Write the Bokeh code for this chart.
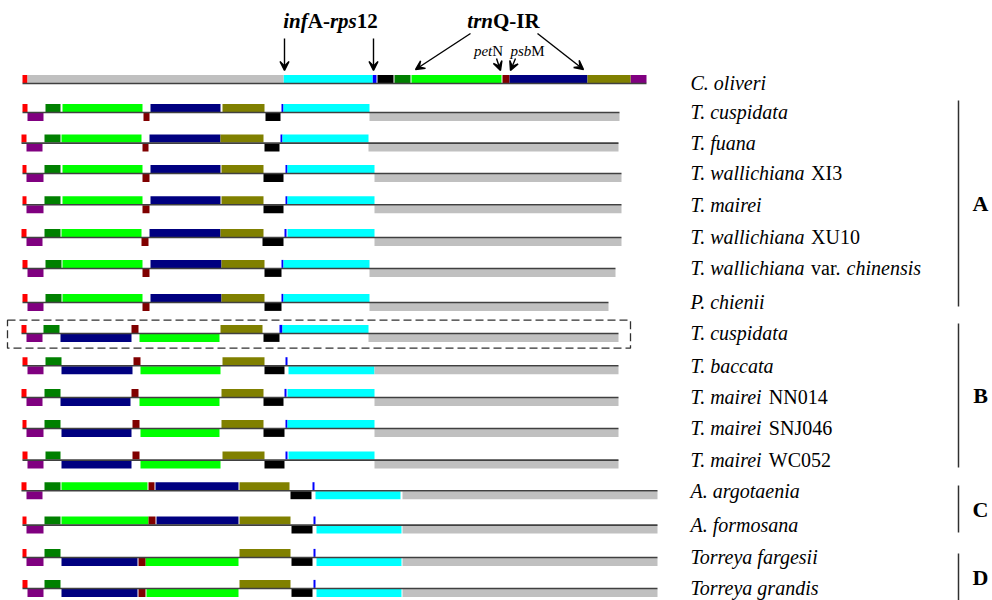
from bokeh.plotting import figure
from bokeh.models import Range1d, Arrow, VeeHead
from bokeh.core.properties import value
from bokeh.embed import file_html
from bokeh.resources import INLINE

# ---------------- data ----------------
SEGMENTS = ["red", "purple", "dkgreen", "green", "darkred", "navy", "olive", "black", "blue", "cyan", "gray"]
SEG_COLORS = ["#ff0000", "#800080", "#008000", "#00ff00", "#800000", "#000080",
              "#808000", "#000000", "#0000ff", "#00ffff", "#c0c0c0"]

species = ["C. oliveri", "T. cuspidata", "T. fuana", "T. wallichiana XI3", "T. mairei",
           "T. wallichiana XU10", "T. wallichiana var. chinensis", "P. chienii",
           "T. cuspidata", "T. baccata", "T. mairei NN014", "T. mairei SNJ046", "T. mairei WC052",
           "A. argotaenia", "A. formosana", "Torreya fargesii", "Torreya grandis"]
row_y = [82.7, 111.7, 142.3, 172.7, 204.0, 236.7, 267.7, 301.7, 332.7,
         365.0, 396.7, 427.7, 459.3, 490.0, 524.3, 556.7, 587.7]

# (start, end, strand) for each segment in SEGMENTS order ; strand +1 = above line, -1 = below
c_oliveri   = [(22,27,1),(630,646,1),(394,410,1),(411,501,1),(502,509,1),(509,587,1),(587,630,1),(377,393,1),(372,376,1),(283,372,1),(27,283,1)]
t_cusp_a    = [(22,27,1),(27,43,-1),(45,60,1),(62,142,1),(143,149,-1),(150,220,1),(222,264,1),(265,280,-1),(281,283,1),(283,369,1),(369,619,-1)]
t_fuana     = [(21,26,1),(26,42,-1),(44,60,1),(61,141,1),(142,148,-1),(149,220,1),(220,263,1),(264,279,-1),(280,282,1),(282,368,1),(368,618,-1)]
t_wall_xi3  = [(22,26,1),(26,43,-1),(44,60,1),(62,142,1),(142,149,-1),(150,220,1),(221,263,1),(263,283,-1),(285,287,1),(287,374,1),(374,621,-1)]
t_mairei    = [(22,26,1),(26,43,-1),(44,60,1),(62,142,1),(142,149,-1),(150,220,1),(221,263,1),(263,283,-1),(285,287,1),(287,374,1),(374,621,-1)]
t_wall_xu10 = [(21,26,1),(26,42,-1),(44,60,1),(61,141,1),(141,148,-1),(149,220,1),(220,263,1),(262,283,-1),(284,286,1),(287,374,1),(374,621,-1)]
t_wall_chin = [(22,27,1),(27,43,-1),(45,61,1),(62,142,1),(142,149,-1),(150,221,1),(221,264,1),(264,281,-1),(281,283,1),(283,369,1),(369,615,-1)]
p_chienii   = [(22,27,1),(27,43,-1),(45,61,1),(62,142,1),(142,149,-1),(150,221,1),(221,264,1),(264,281,-1),(281,283,1),(283,369,1),(369,608,-1)]
t_cusp_b    = [(21,26,1),(26,42,-1),(43,59,1),(139,219,-1),(131,138,1),(60,131,-1),(220,262,1),(263,279,-1),(279,282,1),(282,368,1),(368,618,-1)]
t_baccata   = [(22,27,1),(27,43,-1),(45,61,1),(140,220,-1),(133,140,1),(61,132,-1),(222,264,1),(264,284,-1),(285,287,1),(288,374,-1),(374,618,-1)]
t_mai_nn014 = [(21,26,1),(26,42,-1),(44,60,1),(139,219,-1),(131,138,1),(60,130,-1),(221,263,1),(263,283,-1),(284,286,1),(287,374,1),(374,618,-1)]
t_mai_snj   = [(22,26,1),(26,43,-1),(44,60,1),(140,219,-1),(132,139,1),(61,131,-1),(221,263,1),(263,284,-1),(285,287,1),(287,374,1),(374,618,-1)]
t_mai_wc052 = [(22,27,1),(27,43,-1),(45,60,1),(140,220,-1),(132,139,1),(61,131,-1),(222,264,1),(264,284,-1),(285,287,1),(288,374,1),(374,618,-1)]
a_argot     = [(21,26,1),(26,42,-1),(44,60,1),(61,147,1),(148,154,1),(155,238,1),(239,289,1),(290,311,-1),(312,314,1),(315,400,-1),(402,657,-1)]
a_formos    = [(22,26,1),(26,43,-1),(44,60,1),(61,148,1),(148,155,1),(156,238,1),(239,290,1),(291,312,-1),(313,315,1),(316,401,-1),(402,657,-1)]
t_fargesii  = [(22,26,1),(26,43,-1),(44,60,1),(145,238,-1),(138,145,-1),(61,137,-1),(239,290,1),(291,312,-1),(313,315,1),(316,401,-1),(402,657,-1)]
t_grandis   = [(22,27,1),(27,43,-1),(44,60,1),(146,238,-1),(138,145,-1),(61,137,-1),(239,290,1),(291,312,-1),(313,315,1),(316,401,-1),(402,657,-1)]

rows = [c_oliveri, t_cusp_a, t_fuana, t_wall_xi3, t_mairei, t_wall_xu10, t_wall_chin, p_chienii,
        t_cusp_b, t_baccata, t_mai_nn014, t_mai_snj, t_mai_wc052, a_argot, a_formos, t_fargesii, t_grandis]

highlight_row = 8

# species label pieces (word, style)
label_pieces = [
    [("C. oliveri", "italic")],
    [("T. cuspidata", "italic")],
    [("T. fuana", "italic")],
    [("T. wallichiana", "italic"), ("XI3", "normal")],
    [("T. mairei", "italic")],
    [("T. wallichiana", "italic"), ("XU10", "normal")],
    [("T. wallichiana", "italic"), ("var.", "normal"), ("chinensis", "italic")],
    [("P. chienii", "italic")],
    [("T. cuspidata", "italic")],
    [("T. baccata", "italic")],
    [("T. mairei", "italic"), ("NN014", "normal")],
    [("T. mairei", "italic"), ("SNJ046", "normal")],
    [("T. mairei", "italic"), ("WC052", "normal")],
    [("A. argotaenia", "italic")],
    [("A. formosana", "italic")],
    [("Torreya fargesii", "italic")],
    [("Torreya grandis", "italic")],
]

group_names = ["A", "B", "C", "D"]
group_top = [100, 323, 485, 553]
group_bottom = [306, 467, 532, 600]

# annotation arrows on the reference genome (x_start, y_start, x_end, y_end)
arrow_x0 = [284, 373, 470, 537, 496, 515]
arrow_y0 = [38, 38, 33, 33, 58, 58]
arrow_x1 = [284, 373, 415, 583, 500, 510]
arrow_y1 = [70, 70, 69, 69, 70, 70]

top_labels = [
    ([("inf", "bold italic"), ("A-", "bold"), ("rps", "bold italic"), ("12", "bold")], 330, 20, 21),
    ([("trn", "bold italic"), ("Q-IR", "bold")], 503, 20, 21),
    ([("pet", "italic"), ("N", "normal")], 488, 50, 15),
    ([("psb", "italic"), ("M", "normal")], 527, 50, 15),
]

# ---------------- font metrics (Times-like, per 1000 em) ----------------
W_ITALIC = {' ': 250, '.': 250, '-': 333, 'A': 611, 'C': 667, 'P': 611, 'T': 556,
            'a': 500, 'b': 500, 'c': 444, 'd': 500, 'e': 444, 'f': 278, 'g': 500, 'h': 500,
            'i': 278, 'l': 278, 'm': 722, 'n': 500, 'o': 500, 'p': 500, 'r': 389, 's': 389,
            't': 278, 'u': 500, 'v': 444, 'w': 667, 'y': 444, 'z': 389}
W_ROMAN = {' ': 250, '.': 250, '-': 333, 'v': 500, 'a': 444, 'r': 333, 'X': 722, 'I': 333,
           'U': 722, 'N': 722, 'S': 556, 'J': 389, 'W': 944, 'C': 667, 'M': 889}
W_BOLD = {'A': 722, '-': 333, 'Q': 778, 'I': 389, 'R': 722}
W_BOLDITALIC = {'i': 278, 'n': 556, 'f': 333, 'r': 389, 'p': 500, 's': 389, 't': 278}


def text_width(s, style, size):
    table = {"italic": W_ITALIC, "normal": W_ROMAN, "bold": W_BOLD, "bold italic": W_BOLDITALIC}[style]
    total = 0
    for ch in s:
        if ch.isdigit():
            total += 500
        else:
            total += table.get(ch, 500)
    return total * size / 1000.0


# ---------------- figure ----------------
p = figure(width=992, height=600, x_range=Range1d(0, 992), y_range=Range1d(600, 0),
           output_backend="svg", toolbar_location=None, x_axis_location=None,
           y_axis_location=None, min_border=0)
p.grid.visible = False
p.outline_line_color = None
p.background_fill_color = "white"

BAR_H = 8.0
for yy, blocks in zip(row_y, rows):
    lefts, rights, tops, bottoms, colors = [], [], [], [], []
    for (s, e, strand), col in zip(blocks, SEG_COLORS):
        lefts.append(s)
        rights.append(e)
        if strand > 0:
            tops.append(yy - BAR_H - 0.3)
            bottoms.append(yy - 0.3)
        else:
            tops.append(yy + 0.7)
            bottoms.append(yy + BAR_H + 0.7)
        colors.append(col)
    p.quad(left=lefts, right=rights, top=tops, bottom=bottoms, fill_color=colors, line_color=None)
    x_min = min(b[0] for b in blocks)
    x_max = max(b[1] for b in blocks)
    p.line(x=[x_min, x_max], y=[yy + 0.3, yy + 0.3], line_color="#404040", line_width=1.6)

# dashed highlight box
hb = rows[highlight_row]
hy = row_y[highlight_row]
p.quad(left=[7], right=[max(b[1] for b in hb) + 12], top=[hy - 13], bottom=[hy + 15],
       fill_color=None, line_color="#303030", line_width=1.3, line_dash="8 4")

# arrows
for xs, ys, xe, ye in zip(arrow_x0, arrow_y0, arrow_x1, arrow_y1):
    p.add_layout(Arrow(end=VeeHead(size=9, line_color="black", line_width=1.4),
                       x_start=xs, y_start=ys, x_end=xe, y_end=ye,
                       line_color="black", line_width=1.4))

SERIF = value("'Liberation Serif', 'Times New Roman', serif")


def draw_pieces(pieces, x0, yy, size, join_space):
    cursor = x0
    for i, (txt, style) in enumerate(pieces):
        p.text(x=[cursor], y=[yy], text=[txt], text_font=SERIF, text_font_style=style,
               text_font_size=f"{size}px", text_baseline="middle", text_align="left",
               text_color="black")
        cursor += text_width(txt, style, size)
        if join_space:
            cursor += 250 * size / 1000.0


# species labels
LABEL_X = 690
LABEL_SIZE = 20
for pieces, yy in zip(label_pieces, row_y):
    draw_pieces(pieces, LABEL_X, yy, LABEL_SIZE, True)

# top labels (centered)
for pieces, cx, cy, size in top_labels:
    w = sum(text_width(t, s, size) for t, s in pieces)
    draw_pieces(pieces, cx - w / 2.0, cy, size, False)

# group brackets and letters
BRACKET_X = 958
p.segment(x0=[BRACKET_X] * 4, y0=group_top, x1=[BRACKET_X] * 4, y1=group_bottom,
          line_color="#303030", line_width=1.5)
p.text(x=[980] * 4, y=[(a + b) / 2.0 for a, b in zip(group_top, group_bottom)], text=group_names,
       text_font=SERIF, text_font_style="bold", text_font_size="22px",
       text_align="center", text_baseline="middle", text_color="black")

open("out.html", "w").write(file_html(p, INLINE))
